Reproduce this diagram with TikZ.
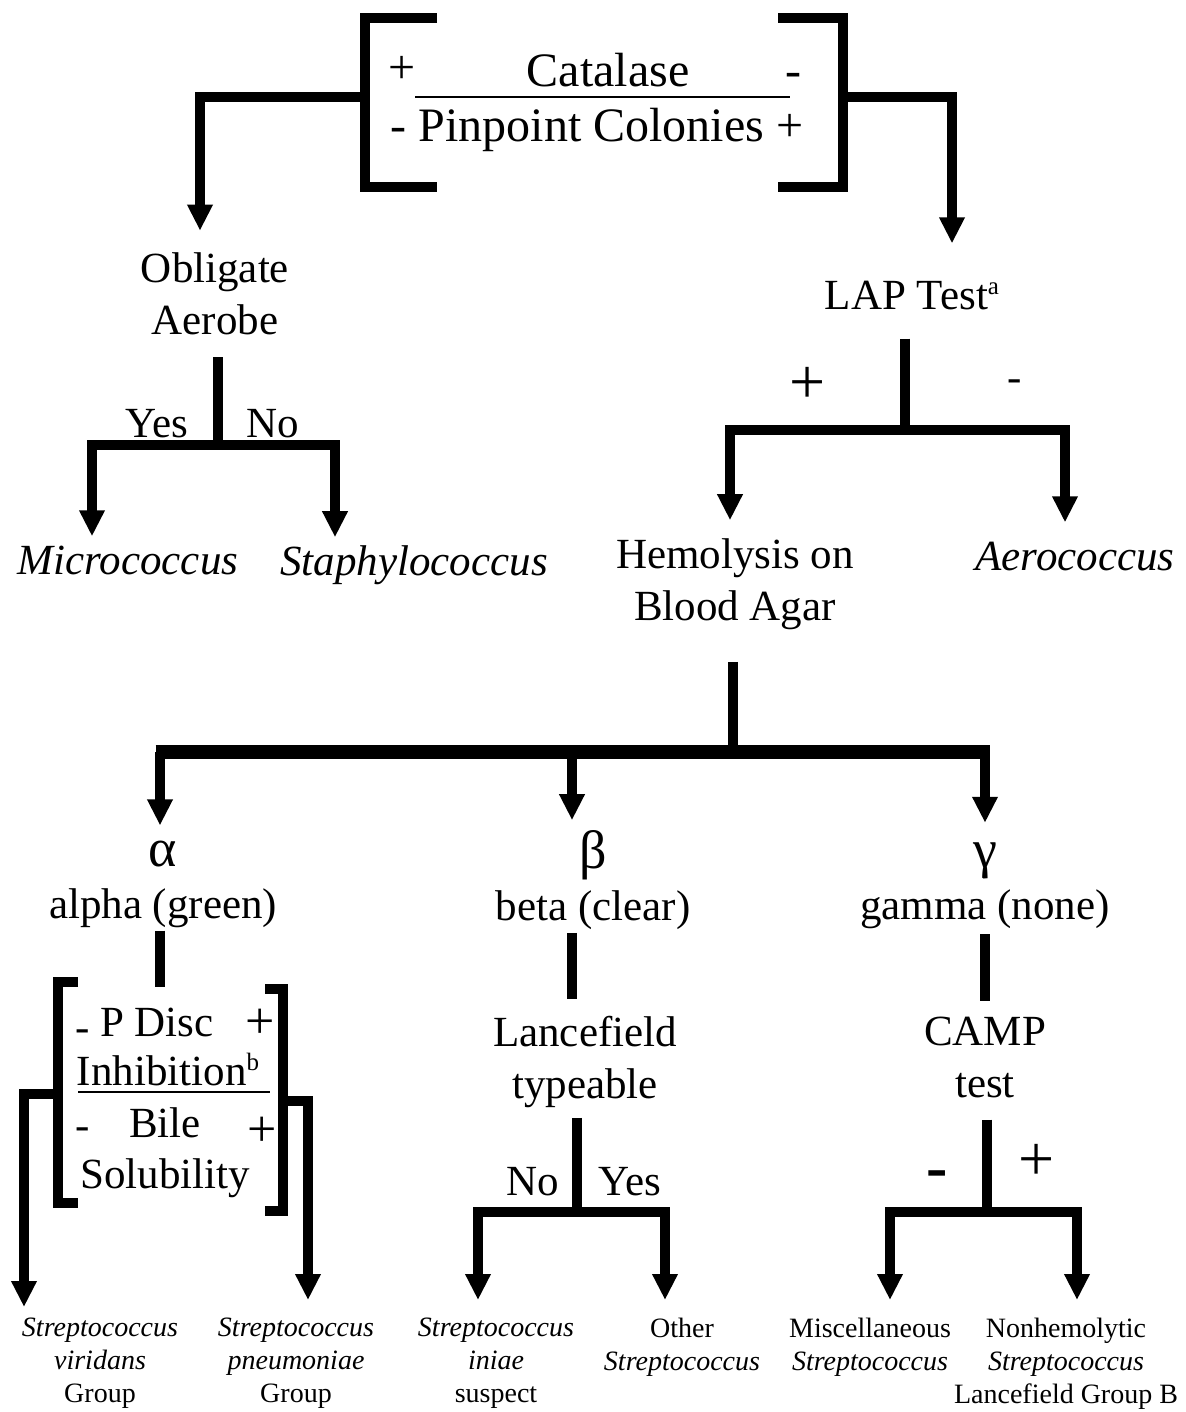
\documentclass[tikz,border=0pt]{standalone}
\usepackage{fontspec}
\setmainfont{Liberation Serif}
\usetikzlibrary{calc,positioning}
\usetikzlibrary{arrows.meta}
\newcommand\sups[1]{\smash{\raisebox{0.36em}{\fontsize{25}{25}\selectfont #1}}}
\newcommand\grk[1]{{\fontsize{54}{52}\selectfont #1}}

\begin{document}
\begin{tikzpicture}[x=1pt,y=-1pt,
lbl/.style={font=\fontsize{43}{52}\selectfont,align=center,inner sep=0pt},
itl/.style={font=\fontsize{43}{52}\selectfont\itshape,inner sep=0pt},
big/.style={font=\fontsize{48}{56}\selectfont,inner sep=0pt},
sgn/.style={font=\fontsize{64}{64}\selectfont,inner sep=0pt},
pls/.style={font=\fontsize{52}{52}\selectfont,inner sep=0pt},
sml/.style={font=\fontsize{28}{33}\selectfont,align=center,inner sep=0pt,anchor=north},
brk/.style={line width=9.5pt},
arr/.style={line width=9.5pt,-{Triangle[width=24pt,length=26pt]}}]
\useasboundingbox(0,0)rectangle(1185,1412);
\node[big](catp)at(402,70){+};
\node[big](cat)at(608,70){Catalase};
\node[big](catm)at(793,80){-};
\node[big](pin)at(597,130){- Pinpoint Colonies +};
\draw[line width=2pt](415,97)--(790,97);
\draw[brk](437,18)--(365,18)--(365,187)--(437,187);
\draw[brk](778,18)--(843,18)--(843,187)--(778,187);
\coordinate(lbrk)at(365,97);
\coordinate(rbrk)at(843,97);
\node[lbl](oblig)at(215,294){Obligate\\Aerobe};
\node[lbl](lap)at(912,296){LAP Test\sups{a}};
\draw[arr](lbrk)-|($(oblig.north)+(-15,-22)$);
\draw[arr](rbrk)-|($(lap.north)+(40,-38)$);
\node[lbl](yes1)at(157,424){Yes};
\node[lbl](no1)at(273,424){No};
\node[itl](micro)at(128,561){Micrococcus};
\node[itl](staph)at(414,565){Staphylococcus};
\coordinate(obj)at(218,445);
\draw[brk]($(oblig.south)+(3,22)$)--(obj);
\draw[arr](obj)-|($(micro.north)+(-36,-10)$);
\draw[arr](obj)-|($(staph.north)+(-79,-8)$);
\node[sgn](plus1)at(808,385){+};
\node[lbl](minus1)at(1015,386){-};
\node[lbl](hemo)at(735,584){Hemolysis on\\Blood Agar};
\node[itl](aero)at(1075,557){Aerococcus};
\coordinate(lapj)at(905,430);
\draw[brk]($(lap.south)+(-7,28)$)--(lapj);
\draw[arr](lapj)-|($(hemo.north)+(-5,-18)$);
\draw[arr](lapj)-|($(aero.north)+(-10,-20)$);
\node[lbl](alpha)at(163,884){\grk{α}\\alpha (green)};
\node[lbl](beta)at(593,880){\grk{β}\\beta (clear)};
\node[lbl](gamma)at(985,886){\grk{γ}\\gamma (none)};
\coordinate(hemj)at(733,752);
\draw[brk]($(hemo.south)+(-2,32)$)--(hemj);
\draw[line width=14pt]($(alpha.north|-hemj)+(-7.5,0)$)--($(gamma.north|-hemj)+(4.5,0)$);
\draw[arr]($(alpha.north|-hemj)+(-3,0)$)--($(alpha.north)+(-3,-15)$);
\draw[arr]($(beta.north|-hemj)+(-21,0)$)--($(beta.north)+(-21,-10)$);
\draw[arr](gamma.north|-hemj)--($(gamma.north)+(0,-20)$);
\node[lbl](pm1)at(83,1036){-};
\node[lbl](pdisc)at(157,1022){P Disc};
\node[pls](pp1)at(260,1024){+};
\node[lbl](inhib)at(168,1071){Inhibition\sups{b}};
\draw[line width=2.5pt](78,1092)--(270,1092);
\node[lbl](pm2)at(83,1134){-};
\node[lbl](bile)at(165,1123){Bile};
\node[pls](pp2)at(262,1132){+};
\node[lbl](solub)at(165,1178){Solubility};
\draw[brk](78,982)--(58,982)--(58,1203)--(78,1203);
\draw[brk](265,989)--(283,989)--(283,1211)--(265,1211);
\draw[brk]($(alpha.south)+(-3,3)$)--($(pdisc.north)+(3,-20)$);
\node[lbl](lance)at(585,1062){Lancefield\\typeable};
\node[lbl](camp)at(985,1057){CAMP\\test};
\node[lbl](no2)at(533,1182){No};
\node[lbl](yes2)at(630,1182){Yes};
\node[sgn,font=\fontsize{64}{64}\selectfont\bfseries](minus2)at(937,1180){-};
\node[sgn](plus2)at(1037,1162){+};
\draw[brk]($(beta.south)+(-21,3)$)--($(lance.north)+(-13,-17)$);
\draw[brk]($(gamma.south)+(0,5)$)--($(camp.north)+(0,-15)$);
\coordinate(lanj)at(577,1212);
\coordinate(campj)at(987,1212);
\draw[brk]($(lance.south)+(-8,10)$)--(lanj);
\draw[brk]($(camp.south)+(2,22)$)--(campj);
\node[sml](viri)at(100,1318){\textit{Streptococcus}\\\textit{viridans}\\Group};
\node[sml](pneu)at(296,1318){\textit{Streptococcus}\\\textit{pneumoniae}\\Group};
\node[sml](iniae)at(496,1318){\textit{Streptococcus}\\\textit{iniae}\\suspect};
\node[sml](other)at(682,1318){Other\\\textit{Streptococcus}};
\node[sml](misc)at(870,1318){Miscellaneous\\\textit{Streptococcus}};
\node[sml](nonh)at(1066,1318){Nonhemolytic\\\textit{Streptococcus}\\Lancefield Group B};
\coordinate(albl)at(58,1094);
\coordinate(albr)at(283,1101);
\draw[arr](albl)-|($(viri.north)+(-76,-11)$);
\draw[arr](albr)-|($(pneu.north)+(12,-18)$);
\draw[arr](lanj)-|($(iniae.north)+(-18,-18)$);
\draw[arr](lanj)-|($(other.north)+(-17,-18)$);
\draw[arr](campj)-|($(misc.north)+(20,-18)$);
\draw[arr](campj)-|($(nonh.north)+(11,-18)$);
\end{tikzpicture}
\end{document}
